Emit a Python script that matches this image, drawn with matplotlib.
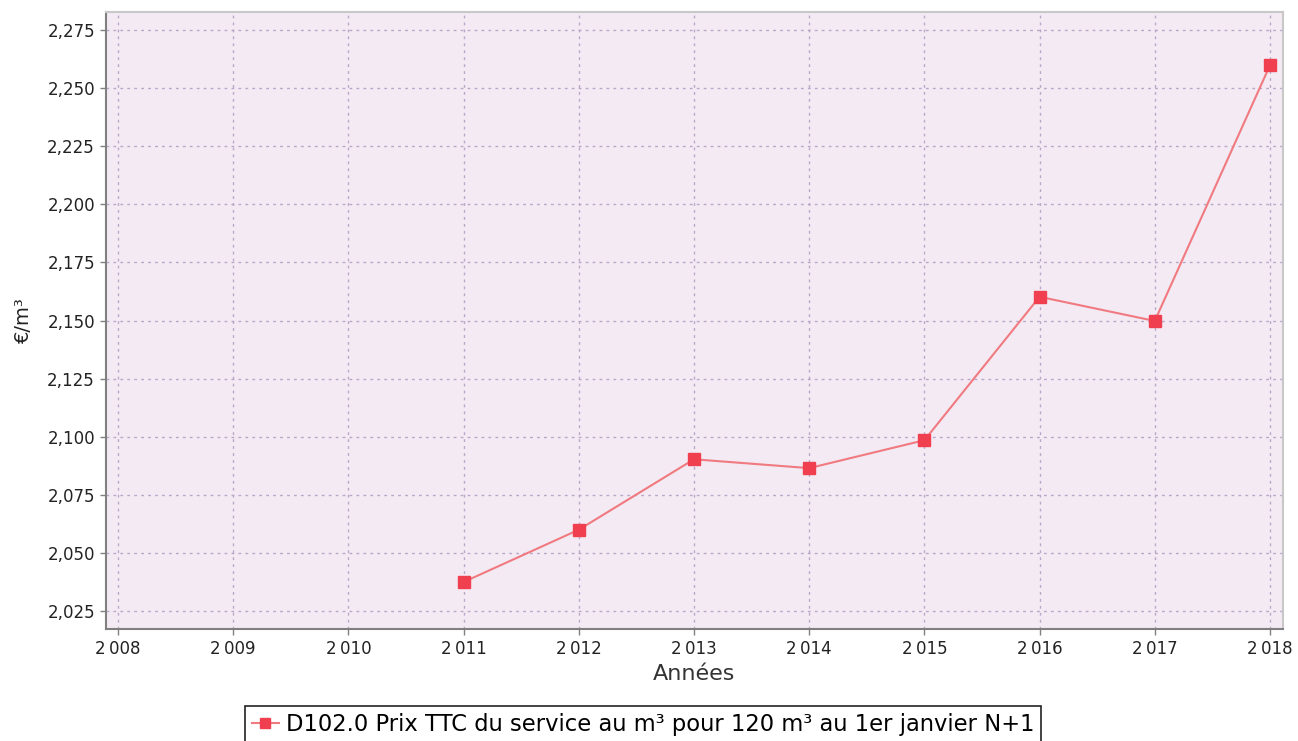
import matplotlib
matplotlib.use("Agg")
import matplotlib.pyplot as plt
from matplotlib.ticker import FixedLocator, FuncFormatter

years = [2011, 2012, 2013, 2014, 2015, 2016, 2017, 2018]
values = [2.0375, 2.0600, 2.0903, 2.0865, 2.0985, 2.1602, 2.1498, 2.2598]
xticks = list(range(2008, 2019))
yticks = [2.025, 2.050, 2.075, 2.100, 2.125, 2.150, 2.175, 2.200, 2.225, 2.250, 2.275]
series_label = "D102.0 Prix TTC du service au m³ pour 120 m³ au 1er janvier N+1"

plt.rcParams['font.family'] = ['DejaVu Sans']

fig = plt.figure(figsize=(12.98, 7.41), dpi=100)
ax = fig.add_axes([106/1298, 1-629/741, (1283-106)/1298, (629-12)/741])
ax.set_facecolor('#f4eaf4')

ax.plot(years, values, color='#f07a80', lw=1.5, marker='s', markersize=9,
        markerfacecolor='#f04050', markeredgecolor='#f04050', label=series_label, zorder=3)

ax.set_xlim(2007.896, 2018.113)
ax.set_ylim(2.0173, 2.2827)
ax.xaxis.set_major_locator(FixedLocator(xticks))
ax.yaxis.set_major_locator(FixedLocator(yticks))
ax.xaxis.set_major_formatter(FuncFormatter(lambda v, p: f"{int(round(v)):,}".replace(",", "\u2009")))
ax.yaxis.set_major_formatter(FuncFormatter(lambda v, p: f"{v:.3f}".replace(".", ",")))

ax.grid(True, color='#b8a8c8', linestyle=(0, (2, 3)), linewidth=1.0)
ax.set_axisbelow(True)

for s in ['top', 'right']:
    ax.spines[s].set_color('#c8c8c8')
    ax.spines[s].set_linewidth(1.5)
for s in ['left', 'bottom']:
    ax.spines[s].set_color('#808080')
    ax.spines[s].set_linewidth(1.5)

ax.tick_params(axis='both', direction='out', length=4, width=1, color='#808080',
               labelsize=12, labelcolor='#222222', pad=4)
ax.set_xlabel("Années", fontsize=16, color='#333333', labelpad=4)
ax.set_ylabel("€/m³", fontsize=14, color='#222222', labelpad=10)

leg = fig.legend(loc='upper center', bbox_to_anchor=(643/1298, 1-706/741), fontsize=16.3,
                 frameon=True, fancybox=False, edgecolor='#222222', framealpha=1,
                 borderpad=0.3, borderaxespad=0, handlelength=1.2, handletextpad=0.3,
                 markerscale=0.8)
leg.get_frame().set_linewidth(1.2)

fig.savefig("out.png", dpi=100)
